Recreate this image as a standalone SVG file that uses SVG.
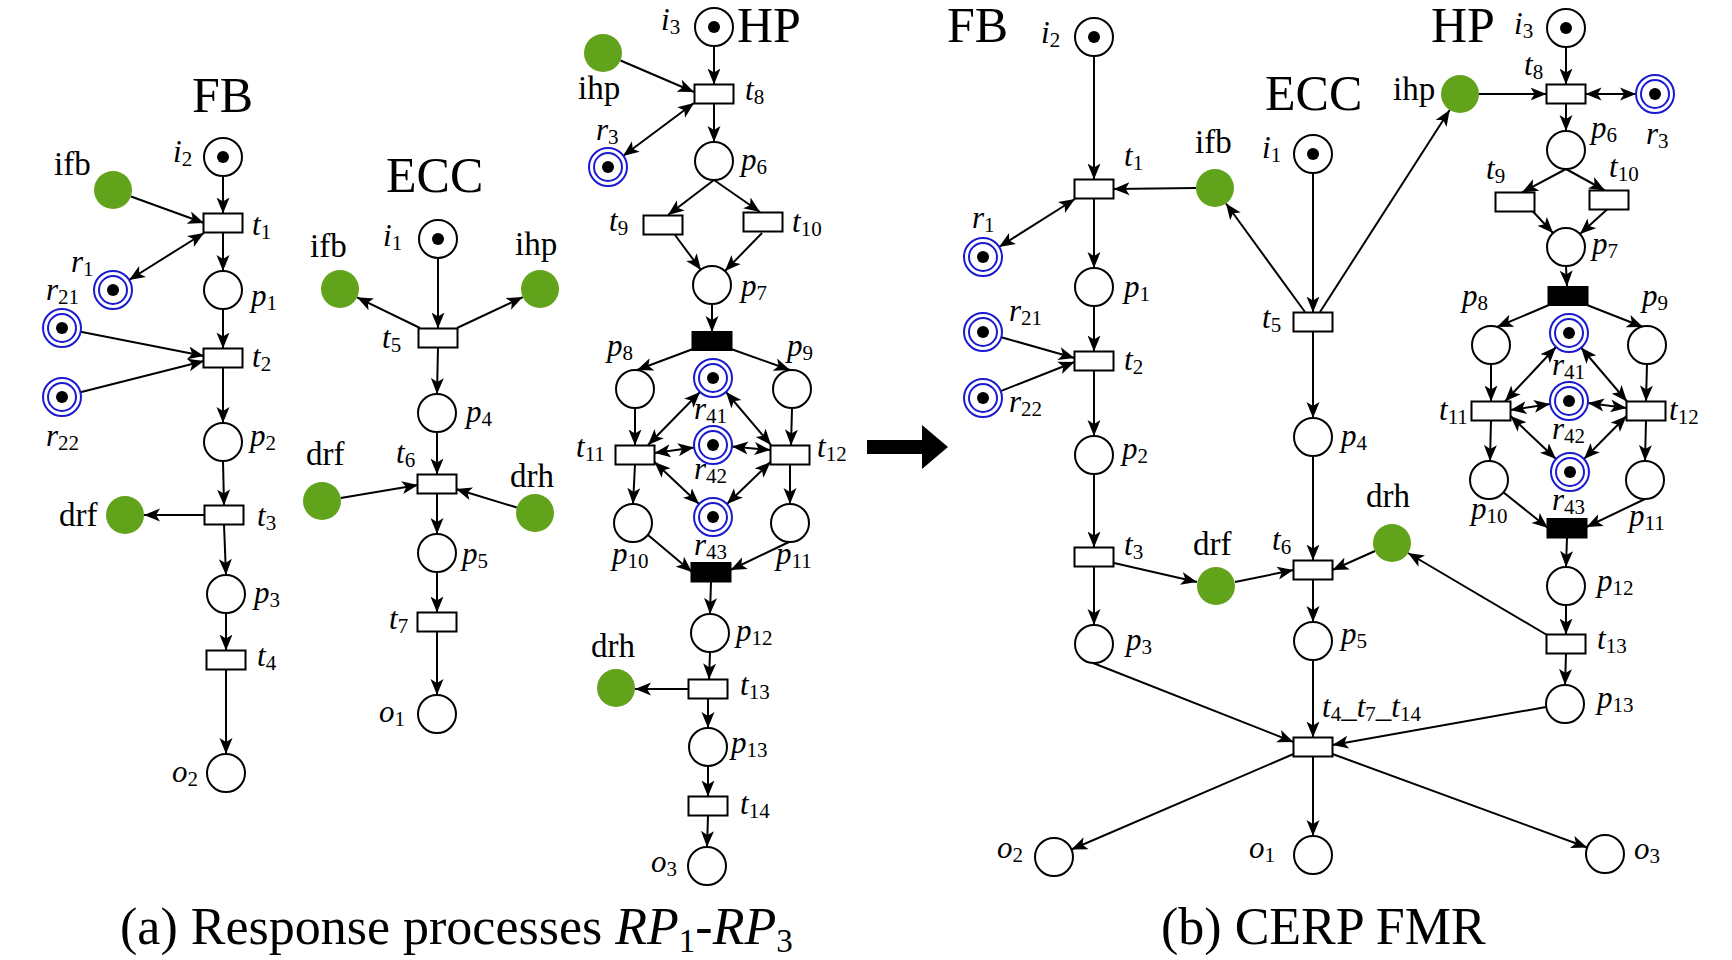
<svg xmlns="http://www.w3.org/2000/svg" width="1732" height="960" viewBox="0 0 1732 960">
<style>
text{font-family:"Liberation Serif","Times New Roman",serif;font-size:31px;fill:#000}
.n{font-size:33px}
.t{font-size:50px}
.cap{font-size:52px}
.i{font-style:italic}
.s{font-size:21px}
.cs{font-size:33px}
.pl{fill:#fff;stroke:#000;stroke-width:2}
.tr{fill:#fff;stroke:#000;stroke-width:2}
.tb{fill:#000;stroke:#000;stroke-width:2}
.tok{fill:#000}
.res{fill:#fff;stroke:#1a1ad0;stroke-width:2}
.rin{fill:none;stroke:#1a1ad0;stroke-width:2}
.gr{fill:#62a31c}
.a{stroke:#000;stroke-width:2;fill:none;marker-end:url(#ah)}
.b{marker-start:url(#ah)}
</style>
<defs>
<marker id="ah" markerUnits="userSpaceOnUse" markerWidth="17" markerHeight="14" refX="16" refY="6.5" orient="auto-start-reverse" viewBox="0 0 17 13">
<path d="M0,0 L16,6.5 L0,13 L4,6.5 Z" fill="#000"/>
</marker>
</defs>
<rect width="1732" height="960" fill="#fff"/>

<g id="connectors">
<!-- (a) FB -->
<line class="a" x1="223" y1="176" x2="223" y2="213.5"/>
<line class="a" x1="131" y1="196.5" x2="204" y2="223"/>
<line class="a b" x1="204" y1="233" x2="129" y2="280"/>
<line class="a" x1="223" y1="232.5" x2="223" y2="271"/>
<line class="a" x1="223" y1="309" x2="223" y2="348.5"/>
<line class="a" x1="80.6" y1="331.7" x2="204" y2="356"/>
<line class="a" x1="80.4" y1="392.3" x2="204" y2="361"/>
<line class="a" x1="223" y1="367.5" x2="223" y2="423"/>
<line class="a" x1="223" y1="461" x2="224" y2="505.5"/>
<line class="a" x1="205" y1="515" x2="144" y2="515"/>
<line class="a" x1="224" y1="524.5" x2="226" y2="575"/>
<line class="a" x1="226" y1="613" x2="226" y2="650.5"/>
<line class="a" x1="226" y1="669.5" x2="226" y2="754"/>
<!-- (a) ECC -->
<line class="a" x1="438" y1="258" x2="438" y2="328.5"/>
<line class="a" x1="420" y1="328" x2="357" y2="297.3"/>
<line class="a" x1="457" y1="328" x2="522.8" y2="297.1"/>
<line class="a" x1="438" y1="347.5" x2="437" y2="394"/>
<line class="a" x1="437" y1="432" x2="437" y2="474.5"/>
<line class="a" x1="340.7" y1="497.9" x2="418" y2="485"/>
<line class="a" x1="516.8" y1="507.5" x2="456" y2="489"/>
<line class="a" x1="437" y1="493.5" x2="437" y2="534"/>
<line class="a" x1="437" y1="572" x2="437" y2="612.5"/>
<line class="a" x1="437" y1="631.5" x2="437" y2="695"/>
<!-- (a) HP -->
<line class="a" x1="714" y1="46" x2="714" y2="84.5"/>
<line class="a" x1="620.5" y1="60.5" x2="694" y2="92"/>
<line class="a b" x1="694" y1="103" x2="623" y2="156"/>
<line class="a" x1="714" y1="103.5" x2="714" y2="142"/>
<line class="a" x1="714" y1="180" x2="668" y2="215"/>
<line class="a" x1="714" y1="180" x2="760" y2="212"/>
<line class="a" x1="675" y1="235" x2="701" y2="270"/>
<line class="a" x1="762" y1="233" x2="725" y2="271"/>
<line class="a" x1="712" y1="304" x2="712" y2="332"/>
<line class="a" x1="693" y1="349" x2="637" y2="370"/>
<line class="a" x1="731" y1="349" x2="790" y2="370"/>
<line class="a" x1="635" y1="408" x2="635" y2="445.5"/>
<line class="a" x1="792" y1="408" x2="791" y2="445.5"/>
<line class="a b" x1="648" y1="445" x2="700" y2="392"/>
<line class="a b" x1="771" y1="445" x2="726" y2="392"/>
<line class="a b" x1="654.5" y1="453" x2="694" y2="447.5"/>
<line class="a b" x1="770.5" y1="450" x2="732" y2="446.6"/>
<line class="a b" x1="654.5" y1="462" x2="699" y2="504"/>
<line class="a b" x1="770.5" y1="462" x2="727" y2="504"/>
<line class="a" x1="635" y1="464.5" x2="633" y2="504"/>
<line class="a" x1="790" y1="464.5" x2="790" y2="504"/>
<line class="a" x1="648" y1="535" x2="692" y2="572"/>
<line class="a" x1="789" y1="542" x2="730.5" y2="570"/>
<line class="a" x1="711" y1="581.5" x2="710" y2="614"/>
<line class="a" x1="710" y1="652" x2="709" y2="679.5"/>
<line class="a" x1="688.5" y1="689" x2="635" y2="689"/>
<line class="a" x1="708" y1="698.5" x2="708" y2="728"/>
<line class="a" x1="708" y1="766" x2="708" y2="796.5"/>
<line class="a" x1="708" y1="815.5" x2="707" y2="847"/>
<!-- (b) -->
<line class="a" x1="1094" y1="56" x2="1094" y2="179.5"/>
<line class="a" x1="1196" y1="188" x2="1113.5" y2="189"/>
<line class="a b" x1="1075" y1="199" x2="999" y2="247"/>
<line class="a" x1="1094" y1="198.5" x2="1094" y2="268"/>
<line class="a" x1="1094" y1="306" x2="1094" y2="351.5"/>
<line class="a" x1="1001.3" y1="337.2" x2="1074.5" y2="358"/>
<line class="a" x1="1000.7" y1="391.1" x2="1074.5" y2="362"/>
<line class="a" x1="1094" y1="370.5" x2="1094" y2="436"/>
<line class="a" x1="1313" y1="173" x2="1313" y2="312.5"/>
<line class="a" x1="1305" y1="312" x2="1226" y2="203.5"/>
<line class="a" x1="1320" y1="312" x2="1449.7" y2="110"/>
<line class="a" x1="1313" y1="331.5" x2="1313" y2="418"/>
<line class="a" x1="1479" y1="94" x2="1546.5" y2="94"/>
<line class="a b" x1="1585.5" y1="94" x2="1636" y2="94"/>
<line class="a" x1="1566" y1="47" x2="1566" y2="84.5"/>
<line class="a" x1="1566" y1="103.5" x2="1566" y2="131"/>
<line class="a" x1="1566" y1="169" x2="1522" y2="192.5"/>
<line class="a" x1="1566" y1="169" x2="1605" y2="190.5"/>
<line class="a" x1="1533" y1="211.5" x2="1553" y2="233"/>
<line class="a" x1="1607" y1="209.5" x2="1580" y2="234"/>
<line class="a" x1="1566" y1="266" x2="1567" y2="286.5"/>
<line class="a" x1="1549" y1="305" x2="1497" y2="327"/>
<line class="a" x1="1587" y1="305" x2="1643" y2="327"/>
<line class="a" x1="1491" y1="364" x2="1491" y2="401.5"/>
<line class="a" x1="1647" y1="364" x2="1646" y2="401.5"/>
<line class="a b" x1="1505" y1="401.5" x2="1556" y2="347"/>
<line class="a b" x1="1627" y1="401.5" x2="1581" y2="347.5"/>
<line class="a b" x1="1510.5" y1="410" x2="1550" y2="404"/>
<line class="a b" x1="1626.5" y1="408" x2="1588" y2="403"/>
<line class="a b" x1="1510.5" y1="416" x2="1556" y2="459"/>
<line class="a b" x1="1626.5" y1="416" x2="1584" y2="459"/>
<line class="a" x1="1491" y1="420.5" x2="1490" y2="461"/>
<line class="a" x1="1646" y1="420.5" x2="1645" y2="461"/>
<line class="a" x1="1503" y1="492" x2="1548" y2="528"/>
<line class="a" x1="1645" y1="499" x2="1586.5" y2="527"/>
<line class="a" x1="1567" y1="537.5" x2="1566" y2="567"/>
<line class="a" x1="1566" y1="605" x2="1566" y2="634.5"/>
<line class="a" x1="1547" y1="635" x2="1408" y2="553"/>
<line class="a" x1="1375" y1="551" x2="1332.5" y2="570"/>
<line class="a" x1="1566" y1="653.5" x2="1565" y2="685"/>
<line class="a" x1="1313" y1="456" x2="1313" y2="560.5"/>
<line class="a" x1="1114" y1="563" x2="1197" y2="582"/>
<line class="a" x1="1235" y1="582" x2="1293.5" y2="570"/>
<line class="a" x1="1313" y1="579.5" x2="1313" y2="622"/>
<line class="a" x1="1094" y1="474" x2="1094" y2="547.5"/>
<line class="a" x1="1094" y1="566.5" x2="1094" y2="625"/>
<line class="a" x1="1093" y1="663" x2="1293.5" y2="742"/>
<line class="a" x1="1313" y1="660" x2="1313" y2="737.5"/>
<line class="a" x1="1546" y1="707" x2="1332.5" y2="745"/>
<line class="a" x1="1293.5" y1="754" x2="1071.4" y2="849.5"/>
<line class="a" x1="1313" y1="756.5" x2="1313" y2="836"/>
<line class="a" x1="1332.5" y1="754" x2="1587.2" y2="847.5"/>
</g>

<g id="big-arrow">
<polygon points="867,440 922,440 922,425 948,447 922,469 922,454 867,454" fill="#000"/>
</g>

<!-- ===== (a) FB ===== -->
<g id="a-FB-title"><text class="t" x="192" y="112">FB</text></g>
<g id="a-i2"><circle class="pl" cx="223" cy="157" r="19"/><circle class="tok" cx="223" cy="157" r="6"/><text x="173" y="162"><tspan class="i">i</tspan><tspan class="s" dy="4">2</tspan></text></g>
<g id="a-ifb"><circle class="gr" cx="113" cy="190" r="19"/><text class="n" x="54" y="175">ifb</text></g>
<g id="a-t1"><rect class="tr" x="203.5" y="213.5" width="39" height="19"/><text x="252" y="235"><tspan class="i">t</tspan><tspan class="s" dy="4">1</tspan></text></g>
<g id="a-r1"><circle class="res" cx="113" cy="290" r="19"/><circle class="rin" cx="113" cy="290" r="14"/><circle class="tok" cx="113" cy="290" r="6"/><text x="71" y="272"><tspan class="i">r</tspan><tspan class="s" dy="4">1</tspan></text></g>
<g id="a-p1"><circle class="pl" cx="223" cy="290" r="19"/><text x="251" y="306"><tspan class="i">p</tspan><tspan class="s" dy="4">1</tspan></text></g>
<g id="a-r21"><circle class="res" cx="62" cy="328" r="19"/><circle class="rin" cx="62" cy="328" r="14"/><circle class="tok" cx="62" cy="328" r="6"/><text x="46" y="300"><tspan class="i">r</tspan><tspan class="s" dy="4">21</tspan></text></g>
<g id="a-t2"><rect class="tr" x="203.5" y="348.5" width="39" height="19"/><text x="252" y="367"><tspan class="i">t</tspan><tspan class="s" dy="4">2</tspan></text></g>
<g id="a-r22"><circle class="res" cx="62" cy="397" r="19"/><circle class="rin" cx="62" cy="397" r="14"/><circle class="tok" cx="62" cy="397" r="6"/><text x="46" y="446"><tspan class="i">r</tspan><tspan class="s" dy="4">22</tspan></text></g>
<g id="a-p2"><circle class="pl" cx="223" cy="442" r="19"/><text x="250" y="446"><tspan class="i">p</tspan><tspan class="s" dy="4">2</tspan></text></g>
<g id="a-t3"><rect class="tr" x="204.5" y="505.5" width="39" height="19"/><text x="257" y="526"><tspan class="i">t</tspan><tspan class="s" dy="4">3</tspan></text></g>
<g id="a-drf"><circle class="gr" cx="125" cy="515" r="19"/><text class="n" x="59" y="526">drf</text></g>
<g id="a-p3"><circle class="pl" cx="226" cy="594" r="19"/><text x="254" y="603"><tspan class="i">p</tspan><tspan class="s" dy="4">3</tspan></text></g>
<g id="a-t4"><rect class="tr" x="206.5" y="650.5" width="39" height="19"/><text x="257" y="666"><tspan class="i">t</tspan><tspan class="s" dy="4">4</tspan></text></g>
<g id="a-o2"><circle class="pl" cx="226" cy="773" r="19"/><text x="172" y="782"><tspan class="i">o</tspan><tspan class="s" dy="4">2</tspan></text></g>

<!-- ===== (a) ECC ===== -->
<g id="a-ECC-title"><text class="t" x="386" y="192">ECC</text></g>
<g id="a-i1"><circle class="pl" cx="438" cy="239" r="19"/><circle class="tok" cx="438" cy="239" r="6"/><text x="383" y="246"><tspan class="i">i</tspan><tspan class="s" dy="4">1</tspan></text></g>
<g id="a-ifb2"><circle class="gr" cx="340" cy="289" r="19"/><text class="n" x="310" y="257">ifb</text></g>
<g id="a-ihp"><circle class="gr" cx="540" cy="289" r="19"/><text class="n" x="515" y="255">ihp</text></g>
<g id="a-t5"><rect class="tr" x="418.5" y="328.5" width="39" height="19"/><text x="382" y="348"><tspan class="i">t</tspan><tspan class="s" dy="4">5</tspan></text></g>
<g id="a-p4"><circle class="pl" cx="437" cy="413" r="19"/><text x="466" y="422"><tspan class="i">p</tspan><tspan class="s" dy="4">4</tspan></text></g>
<g id="a-drf2"><circle class="gr" cx="322" cy="501" r="19"/><text class="n" x="306" y="465">drf</text></g>
<g id="a-t6"><rect class="tr" x="417.5" y="474.5" width="39" height="19"/><text x="396" y="463"><tspan class="i">t</tspan><tspan class="s" dy="4">6</tspan></text></g>
<g id="a-drh"><circle class="gr" cx="535" cy="513" r="19"/><text class="n" x="510" y="487">drh</text></g>
<g id="a-p5"><circle class="pl" cx="437" cy="553" r="19"/><text x="462" y="564"><tspan class="i">p</tspan><tspan class="s" dy="4">5</tspan></text></g>
<g id="a-t7"><rect class="tr" x="417.5" y="612.5" width="39" height="19"/><text x="389" y="629"><tspan class="i">t</tspan><tspan class="s" dy="4">7</tspan></text></g>
<g id="a-o1"><circle class="pl" cx="437" cy="714" r="19"/><text x="379" y="722"><tspan class="i">o</tspan><tspan class="s" dy="4">1</tspan></text></g>

<!-- ===== (a) HP ===== -->
<g id="a-HP-title"><text class="t" x="737" y="42">HP</text></g>
<g id="a-i3"><circle class="pl" cx="714" cy="27" r="19"/><circle class="tok" cx="714" cy="27" r="6"/><text x="661" y="30"><tspan class="i">i</tspan><tspan class="s" dy="4">3</tspan></text></g>
<g id="a-ihp2"><circle class="gr" cx="603" cy="53" r="19"/><text class="n" x="578" y="99">ihp</text></g>
<g id="a-t8"><rect class="tr" x="694.5" y="84.5" width="39" height="19"/><text x="745" y="100"><tspan class="i">t</tspan><tspan class="s" dy="4">8</tspan></text></g>
<g id="a-r3"><circle class="res" cx="608" cy="167" r="19"/><circle class="rin" cx="608" cy="167" r="14"/><circle class="tok" cx="608" cy="167" r="6"/><text x="596" y="140"><tspan class="i">r</tspan><tspan class="s" dy="4">3</tspan></text></g>
<g id="a-p6"><circle class="pl" cx="714" cy="161" r="19"/><text x="741" y="170"><tspan class="i">p</tspan><tspan class="s" dy="4">6</tspan></text></g>
<g id="a-t9"><rect class="tr" x="643.5" y="215.5" width="39" height="19"/><text x="609" y="231"><tspan class="i">t</tspan><tspan class="s" dy="4">9</tspan></text></g>
<g id="a-t10"><rect class="tr" x="743.5" y="212.5" width="39" height="19"/><text x="792" y="232"><tspan class="i">t</tspan><tspan class="s" dy="4">10</tspan></text></g>
<g id="a-p7"><circle class="pl" cx="712" cy="285" r="19"/><text x="741" y="296"><tspan class="i">p</tspan><tspan class="s" dy="4">7</tspan></text></g>
<g id="a-tb1"><rect class="tb" x="692.5" y="332" width="39" height="18"/></g>
<g id="a-p8"><circle class="pl" cx="635" cy="389" r="19"/><text x="607" y="356"><tspan class="i">p</tspan><tspan class="s" dy="4">8</tspan></text></g>
<g id="a-p9"><circle class="pl" cx="792" cy="389" r="19"/><text x="787" y="356"><tspan class="i">p</tspan><tspan class="s" dy="4">9</tspan></text></g>
<g id="a-r41"><circle class="res" cx="713" cy="378" r="19"/><circle class="rin" cx="713" cy="378" r="14"/><circle class="tok" cx="713" cy="378" r="6"/><text x="694" y="419"><tspan class="i">r</tspan><tspan class="s" dy="4">41</tspan></text></g>
<g id="a-t11"><rect class="tr" x="615.5" y="445.5" width="39" height="19"/><text x="576" y="457"><tspan class="i">t</tspan><tspan class="s" dy="4">11</tspan></text></g>
<g id="a-r42"><circle class="res" cx="713" cy="445" r="19"/><circle class="rin" cx="713" cy="445" r="14"/><circle class="tok" cx="713" cy="445" r="6"/><text x="694" y="479"><tspan class="i">r</tspan><tspan class="s" dy="4">42</tspan></text></g>
<g id="a-t12"><rect class="tr" x="770.5" y="445.5" width="39" height="19"/><text x="817" y="457"><tspan class="i">t</tspan><tspan class="s" dy="4">12</tspan></text></g>
<g id="a-r43"><circle class="res" cx="713" cy="517" r="19"/><circle class="rin" cx="713" cy="517" r="14"/><circle class="tok" cx="713" cy="517" r="6"/><text x="694" y="555"><tspan class="i">r</tspan><tspan class="s" dy="4">43</tspan></text></g>
<g id="a-p10"><circle class="pl" cx="633" cy="523" r="19"/><text x="612" y="564"><tspan class="i">p</tspan><tspan class="s" dy="4">10</tspan></text></g>
<g id="a-p11"><circle class="pl" cx="790" cy="523" r="19"/><text x="776" y="564"><tspan class="i">p</tspan><tspan class="s" dy="4">11</tspan></text></g>
<g id="a-tb2"><rect class="tb" x="691.5" y="563" width="39" height="18.5"/></g>
<g id="a-p12"><circle class="pl" cx="710" cy="633" r="19"/><text x="736" y="641"><tspan class="i">p</tspan><tspan class="s" dy="4">12</tspan></text></g>
<g id="a-drh2"><circle class="gr" cx="616" cy="688" r="19"/><text class="n" x="591" y="657">drh</text></g>
<g id="a-t13"><rect class="tr" x="688.5" y="679.5" width="39" height="19"/><text x="740" y="695"><tspan class="i">t</tspan><tspan class="s" dy="4">13</tspan></text></g>
<g id="a-p13"><circle class="pl" cx="708" cy="747" r="19"/><text x="731" y="753"><tspan class="i">p</tspan><tspan class="s" dy="4">13</tspan></text></g>
<g id="a-t14"><rect class="tr" x="688.5" y="796.5" width="39" height="19"/><text x="740" y="814"><tspan class="i">t</tspan><tspan class="s" dy="4">14</tspan></text></g>
<g id="a-o3"><circle class="pl" cx="707" cy="866" r="19"/><text x="651" y="872"><tspan class="i">o</tspan><tspan class="s" dy="4">3</tspan></text></g>

<!-- ===== (b) ===== -->
<g id="b-FB-title"><text class="t" x="947" y="42">FB</text></g>
<g id="b-ECC-title"><text class="t" x="1265" y="110">ECC</text></g>
<g id="b-HP-title"><text class="t" x="1431" y="42">HP</text></g>
<g id="b-i2"><circle class="pl" cx="1094" cy="37" r="19"/><circle class="tok" cx="1094" cy="37" r="6"/><text x="1041" y="43"><tspan class="i">i</tspan><tspan class="s" dy="4">2</tspan></text></g>
<g id="b-t1"><rect class="tr" x="1074.5" y="179.5" width="39" height="19"/><text x="1124" y="166"><tspan class="i">t</tspan><tspan class="s" dy="4">1</tspan></text></g>
<g id="b-ifb"><circle class="gr" cx="1215" cy="188" r="19"/><text class="n" x="1195" y="153">ifb</text></g>
<g id="b-i1"><circle class="pl" cx="1313" cy="154" r="19"/><circle class="tok" cx="1313" cy="154" r="6"/><text x="1262" y="158"><tspan class="i">i</tspan><tspan class="s" dy="4">1</tspan></text></g>
<g id="b-r1"><circle class="res" cx="983" cy="257" r="19"/><circle class="rin" cx="983" cy="257" r="14"/><circle class="tok" cx="983" cy="257" r="6"/><text x="972" y="228"><tspan class="i">r</tspan><tspan class="s" dy="4">1</tspan></text></g>
<g id="b-p1"><circle class="pl" cx="1094" cy="287" r="19"/><text x="1124" y="297"><tspan class="i">p</tspan><tspan class="s" dy="4">1</tspan></text></g>
<g id="b-t5"><rect class="tr" x="1293.5" y="312.5" width="39" height="19"/><text x="1262" y="328"><tspan class="i">t</tspan><tspan class="s" dy="4">5</tspan></text></g>
<g id="b-r21"><circle class="res" cx="983" cy="332" r="19"/><circle class="rin" cx="983" cy="332" r="14"/><circle class="tok" cx="983" cy="332" r="6"/><text x="1009" y="321"><tspan class="i">r</tspan><tspan class="s" dy="4">21</tspan></text></g>
<g id="b-t2"><rect class="tr" x="1074.5" y="351.5" width="39" height="19"/><text x="1124" y="370"><tspan class="i">t</tspan><tspan class="s" dy="4">2</tspan></text></g>
<g id="b-r22"><circle class="res" cx="983" cy="398" r="19"/><circle class="rin" cx="983" cy="398" r="14"/><circle class="tok" cx="983" cy="398" r="6"/><text x="1009" y="412"><tspan class="i">r</tspan><tspan class="s" dy="4">22</tspan></text></g>
<g id="b-p4"><circle class="pl" cx="1313" cy="437" r="19"/><text x="1341" y="446"><tspan class="i">p</tspan><tspan class="s" dy="4">4</tspan></text></g>
<g id="b-p2"><circle class="pl" cx="1094" cy="455" r="19"/><text x="1122" y="459"><tspan class="i">p</tspan><tspan class="s" dy="4">2</tspan></text></g>
<g id="b-t3"><rect class="tr" x="1074.5" y="547.5" width="39" height="19"/><text x="1124" y="555"><tspan class="i">t</tspan><tspan class="s" dy="4">3</tspan></text></g>
<g id="b-drf"><circle class="gr" cx="1216" cy="586" r="19"/><text class="n" x="1193" y="555">drf</text></g>
<g id="b-t6"><rect class="tr" x="1293.5" y="560.5" width="39" height="19"/><text x="1272" y="550"><tspan class="i">t</tspan><tspan class="s" dy="4">6</tspan></text></g>
<g id="b-drh"><circle class="gr" cx="1392" cy="543" r="19"/><text class="n" x="1366" y="507">drh</text></g>
<g id="b-p3"><circle class="pl" cx="1094" cy="644" r="19"/><text x="1126" y="650"><tspan class="i">p</tspan><tspan class="s" dy="4">3</tspan></text></g>
<g id="b-p5"><circle class="pl" cx="1313" cy="641" r="19"/><text x="1341" y="644"><tspan class="i">p</tspan><tspan class="s" dy="4">5</tspan></text></g>
<g id="b-t4_t7_t14"><rect class="tr" x="1293.5" y="737.5" width="39" height="19"/><text x="1322" y="717"><tspan class="i">t</tspan><tspan class="s" dy="4">4</tspan><tspan dy="-4">_</tspan><tspan class="i">t</tspan><tspan class="s" dy="4">7</tspan><tspan dy="-4">_</tspan><tspan class="i">t</tspan><tspan class="s" dy="4">14</tspan></text></g>
<g id="b-o2"><circle class="pl" cx="1054" cy="857" r="19"/><text x="997" y="858"><tspan class="i">o</tspan><tspan class="s" dy="4">2</tspan></text></g>
<g id="b-o1"><circle class="pl" cx="1313" cy="855" r="19"/><text x="1249" y="858"><tspan class="i">o</tspan><tspan class="s" dy="4">1</tspan></text></g>
<g id="b-o3"><circle class="pl" cx="1605" cy="854" r="19"/><text x="1634" y="859"><tspan class="i">o</tspan><tspan class="s" dy="4">3</tspan></text></g>
<g id="b-i3"><circle class="pl" cx="1566" cy="28" r="19"/><circle class="tok" cx="1566" cy="28" r="6"/><text x="1514" y="34"><tspan class="i">i</tspan><tspan class="s" dy="4">3</tspan></text></g>
<g id="b-ihp"><circle class="gr" cx="1460" cy="94" r="19"/><text class="n" x="1393" y="100">ihp</text></g>
<g id="b-t8"><rect class="tr" x="1546.5" y="84.5" width="39" height="19"/><text x="1524" y="75"><tspan class="i">t</tspan><tspan class="s" dy="4">8</tspan></text></g>
<g id="b-r3"><circle class="res" cx="1655" cy="94" r="19"/><circle class="rin" cx="1655" cy="94" r="14"/><circle class="tok" cx="1655" cy="94" r="6"/><text x="1646" y="144"><tspan class="i">r</tspan><tspan class="s" dy="4">3</tspan></text></g>
<g id="b-p6"><circle class="pl" cx="1566" cy="150" r="19"/><text x="1591" y="138"><tspan class="i">p</tspan><tspan class="s" dy="4">6</tspan></text></g>
<g id="b-t9"><rect class="tr" x="1495.5" y="192.5" width="39" height="19"/><text x="1486" y="179"><tspan class="i">t</tspan><tspan class="s" dy="4">9</tspan></text></g>
<g id="b-t10"><rect class="tr" x="1589.5" y="190.5" width="39" height="19"/><text x="1609" y="177"><tspan class="i">t</tspan><tspan class="s" dy="4">10</tspan></text></g>
<g id="b-p7"><circle class="pl" cx="1566" cy="247" r="19"/><text x="1592" y="254"><tspan class="i">p</tspan><tspan class="s" dy="4">7</tspan></text></g>
<g id="b-tb1"><rect class="tb" x="1548.5" y="287" width="39" height="18"/></g>
<g id="b-p8"><circle class="pl" cx="1491" cy="345" r="19"/><text x="1462" y="306"><tspan class="i">p</tspan><tspan class="s" dy="4">8</tspan></text></g>
<g id="b-p9"><circle class="pl" cx="1647" cy="345" r="19"/><text x="1642" y="306"><tspan class="i">p</tspan><tspan class="s" dy="4">9</tspan></text></g>
<g id="b-r41"><circle class="res" cx="1569" cy="333" r="19"/><circle class="rin" cx="1569" cy="333" r="14"/><circle class="tok" cx="1569" cy="333" r="6"/><text x="1552" y="375"><tspan class="i">r</tspan><tspan class="s" dy="4">41</tspan></text></g>
<g id="b-t11"><rect class="tr" x="1471.5" y="401.5" width="39" height="19"/><text x="1439" y="420"><tspan class="i">t</tspan><tspan class="s" dy="4">11</tspan></text></g>
<g id="b-r42"><circle class="res" cx="1569" cy="401" r="19"/><circle class="rin" cx="1569" cy="401" r="14"/><circle class="tok" cx="1569" cy="401" r="6"/><text x="1552" y="439"><tspan class="i">r</tspan><tspan class="s" dy="4">42</tspan></text></g>
<g id="b-t12"><rect class="tr" x="1626.5" y="401.5" width="39" height="19"/><text x="1669" y="420"><tspan class="i">t</tspan><tspan class="s" dy="4">12</tspan></text></g>
<g id="b-r43"><circle class="res" cx="1570" cy="472" r="19"/><circle class="rin" cx="1570" cy="472" r="14"/><circle class="tok" cx="1570" cy="472" r="6"/><text x="1552" y="510"><tspan class="i">r</tspan><tspan class="s" dy="4">43</tspan></text></g>
<g id="b-p10"><circle class="pl" cx="1489" cy="480" r="19"/><text x="1471" y="519"><tspan class="i">p</tspan><tspan class="s" dy="4">10</tspan></text></g>
<g id="b-p11"><circle class="pl" cx="1645" cy="480" r="19"/><text x="1629" y="526"><tspan class="i">p</tspan><tspan class="s" dy="4">11</tspan></text></g>
<g id="b-tb2"><rect class="tb" x="1547.5" y="519" width="39" height="18.5"/></g>
<g id="b-p12"><circle class="pl" cx="1566" cy="586" r="19"/><text x="1597" y="591"><tspan class="i">p</tspan><tspan class="s" dy="4">12</tspan></text></g>
<g id="b-t13"><rect class="tr" x="1546.5" y="634.5" width="39" height="19"/><text x="1597" y="649"><tspan class="i">t</tspan><tspan class="s" dy="4">13</tspan></text></g>
<g id="b-p13"><circle class="pl" cx="1565" cy="704" r="19"/><text x="1597" y="708"><tspan class="i">p</tspan><tspan class="s" dy="4">13</tspan></text></g>

<g id="captions">
<text class="cap" x="120" y="944">(a) Response processes <tspan class="i">RP</tspan><tspan class="cs" dy="8">1</tspan><tspan dy="-8">-</tspan><tspan class="i">RP</tspan><tspan class="cs" dy="8">3</tspan></text>
<text class="cap" x="1161" y="944">(b) CERP FMR</text>
</g>
</svg>
